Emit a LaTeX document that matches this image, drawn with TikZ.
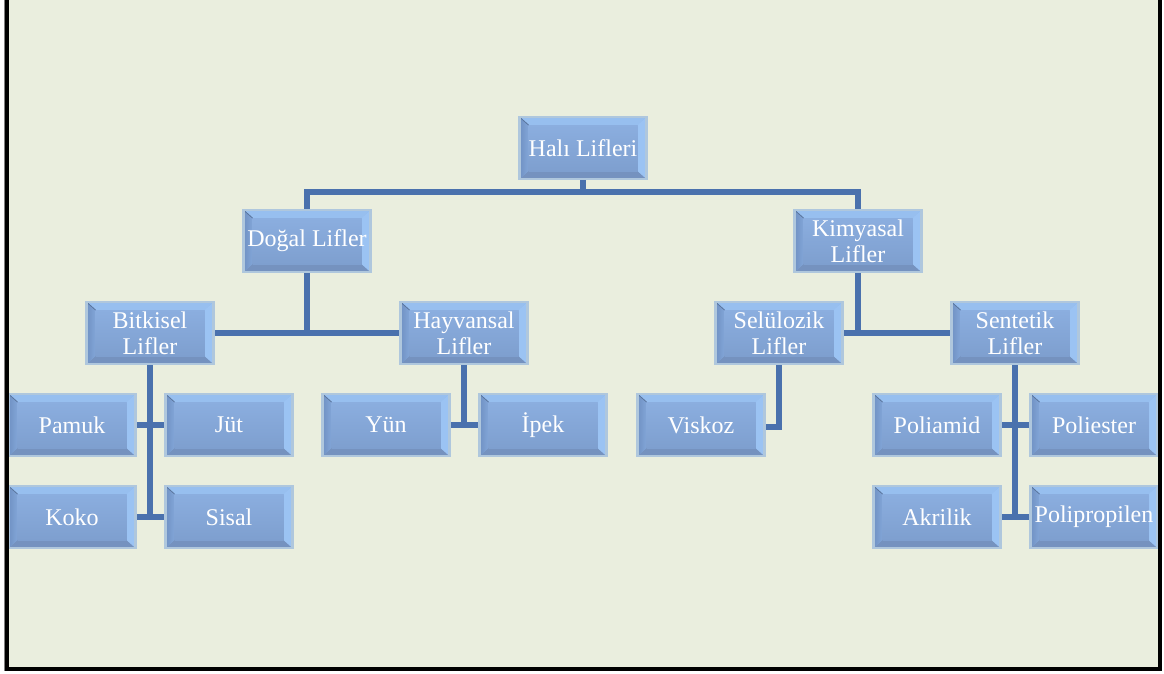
\documentclass[tikz,border=0pt]{standalone}
\usepackage{fontspec}
\setmainfont{Liberation Serif}
\usetikzlibrary{calc}
\definecolor{bg}{HTML}{EAEEDE}
\definecolor{conn}{HTML}{4A71AD}
\definecolor{bmidtop}{HTML}{8BAEDF}
\definecolor{bmidbot}{HTML}{7E9FCF}
\definecolor{btop}{HTML}{97BFEF}
\definecolor{bleftA}{HTML}{7092C4}
\definecolor{bleftB}{HTML}{82A5D7}
\definecolor{bright}{HTML}{9BC3F3}
\definecolor{bbot}{HTML}{7592BF}
\definecolor{bedge}{HTML}{AFC7DD}
\pgfdeclarelayer{back}
\pgfdeclarelayer{mid}
\pgfsetlayers{back,mid,main}
\tikzset{
  fbox/.style={rectangle, minimum width=127pt, minimum height=62pt, inner sep=0pt,
    align=center, text=white, font=\fontsize{24}{26}\selectfont,
    draw=bedge, line width=2.5pt, fill=bmidtop,
    path picture={
      \coordinate (pnw) at (path picture bounding box.north west);
      \coordinate (pne) at (path picture bounding box.north east);
      \coordinate (psw) at (path picture bounding box.south west);
      \coordinate (pse) at (path picture bounding box.south east);
      \coordinate (inw) at ([shift={(9pt,-8pt)}]pnw);
      \coordinate (ine) at ([shift={(-9pt,-8pt)}]pne);
      \coordinate (isw) at ([shift={(9pt,8pt)}]psw);
      \coordinate (ise) at ([shift={(-9pt,8pt)}]pse);
      \fill[btop] (pnw) -- (pne) -- (ine) -- (inw) -- cycle;
      \fill[bbot] (psw) -- (pse) -- (ise) -- (isw) -- cycle;
      \shade[left color=bleftA, right color=bleftB] (pnw) -- (inw) -- (isw) -- (psw) -- cycle;
      \fill[bright] (pne) -- (ine) -- (ise) -- (pse) -- cycle;
      \shade[top color=bmidtop, bottom color=bmidbot] (inw) rectangle (ise);
      \draw[bleftA!80!black, line width=0.8pt] (pnw) -- (inw);
    }},
  link/.style={draw=conn, line width=6pt}
}
\begin{document}
\begin{tikzpicture}[x=1pt, y=-1pt]
\useasboundingbox (0,0) rectangle (1164,673);
\begin{pgfonlayer}{back}
  \fill[white] (0,0) rectangle (1164,673);
  \fill[bg] (7,0) rectangle (1160,669);
\end{pgfonlayer}

\node[fbox] (hali) at (583,148) {Halı Lifleri};
\node[fbox] (dogal) at (307,241) {Doğal Lifler};
\node[fbox] (kimya) at (858,241) {Kimyasal\\Lifler};
\node[fbox] (bitki) at (150,333) {Bitkisel\\Lifler};
\node[fbox] (hayvan) at (464,333) {Hayvansal\\Lifler};
\node[fbox] (selu) at (779,333) {Selülozik\\Lifler};
\node[fbox] (sent) at (1015,333) {Sentetik\\Lifler};
\node[fbox] (pamuk) at (72,425) {Pamuk};
\node[fbox] (jut) at (229,425) {Jüt};
\node[fbox] (koko) at (72,517) {Koko};
\node[fbox] (sisal) at (229,517) {Sisal};
\node[fbox] (yun) at (386,425) {Yün};
\node[fbox] (ipek) at (543,425) {İpek};
\node[fbox] (viskoz) at (701,425) {Viskoz};
\node[fbox] (poliamid) at (937,425) {Poliamid};
\node[fbox] (poliester) at (1094,425) {Poliester};
\node[fbox] (akril) at (937,517) {Akrilik};
\node[fbox] (polip) at (1094,517) {Polipropilen};

\coordinate (j1) at (583,193);

\begin{pgfonlayer}{mid}
  \draw[link] (hali) -- (j1);
  \draw[link] (dogal.north) -- ++(0,-17) -| (kimya.north);
  \draw[link] (dogal.south) -- (dogal.south |- bitki.east);
  \draw[link] (bitki.east) -- (hayvan.west);
  \draw[link] (kimya.south) -- (kimya.south |- selu.east);
  \draw[link] (selu.east) -- (sent.west);
  \draw[link] (bitki.south) -- (bitki.south |- koko.east);
  \draw[link] (pamuk.east) -- (jut.west);
  \draw[link] (koko.east) -- (sisal.west);
  \draw[link] (hayvan.south) -- (hayvan.south |- yun.east);
  \draw[link] (yun.east) -- (ipek.west);
  \draw[link] (selu.south) |- ([yshift=-2pt]viskoz.east);
  \draw[link] (sent.south) -- (sent.south |- akril.east);
  \draw[link] (poliamid.east) -- (poliester.west);
  \draw[link] (akril.east) -- (polip.west);
\end{pgfonlayer}

\draw[gray, line width=1pt] (4,0) -- (4,671);
\draw[black, line width=4pt] (6.5,0) -- (6.5,669) -- (1160,669) -- (1160,0);
\end{tikzpicture}
\end{document}
